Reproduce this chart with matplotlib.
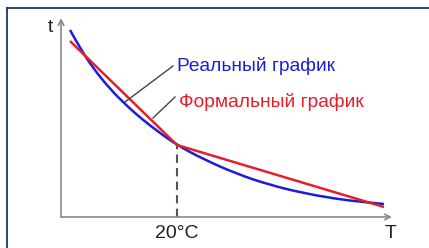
import matplotlib
matplotlib.use("Agg")
import matplotlib.pyplot as plt
from matplotlib.lines import Line2D
from matplotlib.path import Path
from matplotlib.patches import PathPatch

# curve points (origin at the axes corner, units ~ px)
real_T = [9, 19, 32, 49, 66, 82, 99, 116, 142, 176, 209, 242, 276, 302, 323]
real_t = [187, 169, 149, 128, 111, 97, 84, 72, 58, 43, 32, 24, 18, 15, 13]
formal_T = [9, 116, 323]
formal_t = [176, 72, 10]
ref_T = 116          # 20°C
label_real = "Реальный график"
label_formal = "Формальный график"

BLUE = "#1c1cdc"
RED = "#e61e28"
AXIS = "#8a8a8a"
FRAME = "#1d3567"

plt.rcParams["font.family"] = ["Liberation Sans", "DejaVu Sans"]

fig = plt.figure(figsize=(4.29, 2.48), dpi=100)
ax = fig.add_axes([0, 0, 1, 1])
ax.set_xlim(-61, 368)
ax.set_ylim(-31, 217)
ax.axis("off")

# frame (top and left edges)
fig.add_artist(Line2D([7/429, 1], [1 - 8/248] * 2, transform=fig.transFigure, color=FRAME, lw=1.3))
fig.add_artist(Line2D([7/429] * 2, [0, 1 - 8/248], transform=fig.transFigure, color=FRAME, lw=1.3))

# axes with arrows
ax.annotate("", xy=(0, 199), xytext=(0, 0),
            arrowprops=dict(arrowstyle="->", color=AXIS, lw=1.2, shrinkA=0, shrinkB=0))
ax.annotate("", xy=(331, 0), xytext=(0, 0),
            arrowprops=dict(arrowstyle="->", color=AXIS, lw=1.2, shrinkA=0, shrinkB=0))
ax.text(-11, 189, "t", fontsize=14, ha="center", va="center", color="#222")
ax.text(330, -16, "T", fontsize=14, ha="center", va="center", color="#222")

# 20°C marker
ax.plot([ref_T, ref_T], [0, formal_t[1]], color="#555", lw=1.5, ls=(0, (4, 2.5)))
ax.text(ref_T, -16, "20°C", fontsize=14, ha="center", va="center", color="#222")

ax.plot(formal_T, formal_t, color=RED, lw=1.8, solid_capstyle="butt")

# real curve: smooth quadratic path using the read points as control points
pts = list(zip(real_T, real_t))
verts, codes = [pts[0]], [Path.MOVETO]
for i in range(1, len(pts) - 1):
    nxt = pts[i + 1] if i + 1 == len(pts) - 1 else ((pts[i][0] + pts[i + 1][0]) / 2,
                                                    (pts[i][1] + pts[i + 1][1]) / 2)
    verts += [pts[i], nxt]
    codes += [Path.CURVE3, Path.CURVE3]
ax.add_patch(PathPatch(Path(verts, codes), fill=False, edgecolor=BLUE, lw=1.8))

# labels with leader lines
ax.plot([112, 64], [151, 115], color="#444", lw=1.0)
ax.plot([114, 92], [120, 99], color="#444", lw=1.0)
ax.text(116, 151, label_real, fontsize=13.8, color=BLUE, ha="left", va="center")
ax.text(118, 115, label_formal, fontsize=13.8, color=RED, ha="left", va="center")

fig.savefig("out.png", dpi=100, facecolor="white")
